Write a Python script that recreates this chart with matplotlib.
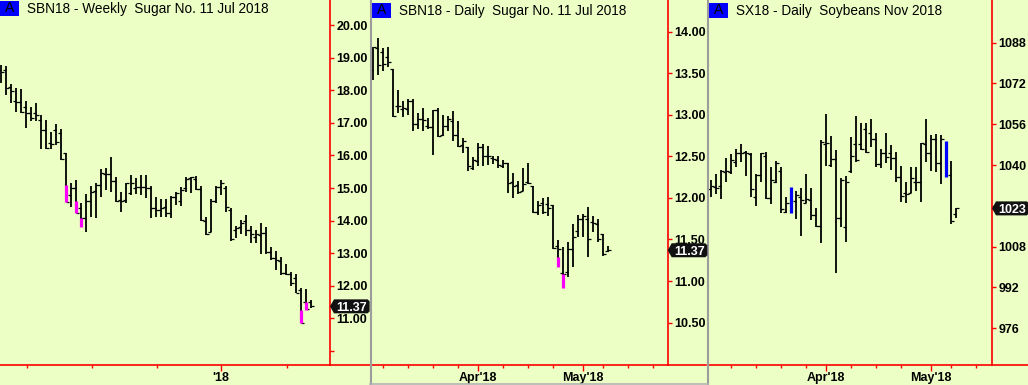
import numpy as np
import matplotlib
matplotlib.use("Agg")
import matplotlib.pyplot as plt
import matplotlib.transforms as mtransforms
from matplotlib.patches import Polygon, Rectangle
from matplotlib.lines import Line2D

plt.rcParams['font.family'] = ['Liberation Sans', 'DejaVu Sans']

BG = '#ECFFC4'
RED = '#FF0000'
W, H = 1028, 385

# ---- SBN18 weekly (sugar) ----
wk_open = [18.62, 18.62, 18.11, 17.67, 17.65, 17.49, 17.29, 17.29, 17.09, 16.78, 16.37, 16.78, 16.68, 16.06, 14.79,
           14.99, 14.38, 14.07, 14.61, 14.91, 15.09, 15.42, 15.43, 15.21, 14.63, 14.63, 14.84, 14.99, 15.04, 15.04,
           14.99, 14.38, 14.33, 14.43, 14.22, 14.73, 14.60, 15.01, 15.30, 15.28, 14.96, 13.99, 13.64, 14.60, 15.04,
           15.01, 14.33, 13.71, 13.79, 13.99, 13.71, 13.51, 13.56, 13.61, 13.05, 12.84, 12.76, 12.40, 12.36, 12.23,
           11.87, 11.51, 11.51]
wk_high = [18.77, 18.74, 18.18, 18.06, 18.04, 17.67, 17.49, 17.60, 17.24, 17.09, 16.73, 16.95, 16.81, 16.09, 15.14,
           15.25, 14.53, 14.81, 15.07, 15.14, 15.58, 15.60, 15.96, 15.35, 14.89, 15.16, 15.40, 15.30, 15.40, 15.40,
           15.07, 14.73, 14.65, 14.65, 14.76, 14.89, 15.04, 15.33, 15.35, 15.38, 15.06, 14.12, 14.65, 15.07, 15.25,
           15.06, 14.38, 13.83, 14.02, 14.17, 13.83, 13.71, 13.92, 13.79, 13.18, 13.08, 12.89, 12.67, 12.43, 12.36,
           11.92, 11.90, 11.56]
wk_low = [18.21, 17.87, 17.60, 17.32, 17.29, 16.85, 17.07, 17.06, 16.20, 16.19, 16.20, 16.32, 15.86, 14.56, 14.43,
          14.22, 13.81, 13.66, 14.12, 14.09, 14.73, 14.94, 14.89, 14.58, 14.25, 14.53, 14.79, 14.81, 14.79, 14.68,
          14.07, 14.12, 14.12, 14.12, 14.07, 14.48, 14.45, 14.89, 14.84, 14.94, 13.99, 13.56, 13.64, 14.53, 14.79,
          14.25, 13.38, 13.46, 13.59, 13.53, 13.30, 13.32, 12.98, 12.98, 12.79, 12.48, 12.33, 12.33, 11.99, 11.77,
          10.87, 11.26, 11.31]
wk_close = [18.57, 18.06, 17.98, 17.65, 17.34, 17.29, 17.14, 17.24, 16.78, 16.22, 16.34, 16.40, 15.89, 14.58, 14.99,
            14.22, 14.09, 14.61, 14.89, 15.09, 15.45, 15.43, 15.21, 14.61, 14.61, 15.14, 15.15, 15.04, 15.04, 14.99,
            14.38, 14.33, 14.38, 14.22, 14.71, 14.86, 14.94, 15.28, 15.33, 14.96, 14.02, 13.58, 14.60, 15.04, 15.14,
            14.43, 13.44, 13.76, 13.92, 13.71, 13.58, 13.59, 13.61, 13.05, 12.84, 12.79, 12.40, 12.36, 12.08, 11.79,
            10.87, 11.28, 11.37]
wk_hl_idx = [13, 15, 16, 60, 61]
wk_hl_top = [15.09, 14.60, 14.09, 11.26, 11.51]
wk_hl_bot = [14.56, 14.22, 13.81, 10.87, 11.26]
wk_yticks = [10, 11, 12, 13, 14, 15, 16, 17, 18, 19, 20]
wk_ylabels = ['', '11.00', '12.00', '13.00', '14.00', '15.00', '16.00', '17.00', '18.00', '19.00', '20.00']
wk_minor = [5.1, 18.1, 31.1, 57.1]
wk_major = [44.0]
wk_xlabels = ["'18"]

# ---- SBN18 daily (sugar) ----
sb_open = [13.54, 13.80, 13.75, 13.70, 13.55, 13.11, 13.07, 13.07, 13.17, 12.89, 12.95, 12.86, 12.85, 13.06, 12.76,
           12.87, 12.93, 12.76, 12.64, 12.61, 12.36, 12.44, 12.61, 12.50, 12.48, 12.46, 12.38, 12.42, 12.19, 12.16,
           12.08, 12.19, 12.14, 11.83, 11.94, 11.93, 11.92, 11.42, 11.10, 11.11, 11.38, 11.60, 11.75, 11.75, 11.71,
           11.69, 11.57, 11.36]
sb_high = [13.82, 13.92, 13.80, 13.82, 13.55, 13.30, 13.16, 13.19, 13.19, 13.02, 13.08, 12.96, 13.06, 13.08, 13.00,
           12.99, 13.04, 12.92, 12.72, 12.61, 12.49, 12.66, 12.65, 12.62, 12.50, 12.50, 12.46, 12.42, 12.30, 12.20,
           12.36, 12.42, 12.14, 11.96, 12.00, 12.01, 11.92, 11.49, 11.41, 11.47, 11.69, 11.79, 11.81, 11.89, 11.78,
           11.75, 11.57, 11.42]
sb_low = [13.42, 13.48, 13.53, 13.58, 12.97, 13.02, 12.97, 13.00, 12.80, 12.83, 12.80, 12.83, 12.52, 12.73, 12.74,
          12.80, 12.68, 12.61, 12.54, 12.32, 12.34, 12.38, 12.38, 12.40, 12.41, 12.36, 12.36, 12.06, 12.00, 12.05,
          12.08, 12.17, 11.82, 11.79, 11.81, 11.78, 11.38, 11.17, 10.92, 11.05, 11.17, 11.53, 11.53, 11.29, 11.59,
          11.47, 11.30, 11.35]
sb_close = [13.82, 13.60, 13.61, 13.63, 12.99, 13.11, 13.08, 13.17, 12.89, 12.95, 12.94, 12.85, 13.06, 12.75, 12.87,
            12.95, 12.76, 12.62, 12.68, 12.38, 12.46, 12.61, 12.50, 12.50, 12.47, 12.39, 12.42, 12.18, 12.14, 12.07,
            12.17, 12.18, 11.83, 11.91, 11.83, 11.88, 11.40, 11.38, 11.09, 11.38, 11.53, 11.75, 11.78, 11.50, 11.70,
            11.51, 11.33, 11.37]
sb_hl_idx = [37, 38]
sb_hl_top = [11.29, 11.09]
sb_hl_bot = [11.17, 10.92]
sb_yticks = [10.5, 11.0, 11.5, 12.0, 12.5, 13.0, 13.5, 14.0]
sb_ylabels = ['10.50', '11.00', '11.50', '12.00', '12.50', '13.00', '13.50', '14.00']
sb_minor = [2, 7, 12, 17, 26, 31, 36, 46, 51, 56]
sb_major = [21, 42]
sb_xlabels = ["Apr'18", "May'18"]

# ---- SX18 daily (soybeans) ----
sx_open = [1030.5, 1031.3, 1031.8, 1037.4, 1037.4, 1041.3, 1044.9, 1045.3, 1044.3, 1027.3, 1036.1, 1043.6, 1027.0,
           1033.5, 1037.8, 1021.7, 1031.3, 1026.0, 1027.3, 1025.0, 1026.3, 1020.4, 1016.1, 1048.3, 1040.0, 1042.2,
           1019.1, 1015.8, 1037.8, 1048.3, 1048.3, 1054.0, 1052.7, 1050.1, 1040.4, 1044.9, 1044.9, 1042.6, 1035.2,
           1028.9, 1028.9, 1033.5, 1033.5, 1048.3, 1044.9, 1050.1, 1040.9, 1049.4, 1036.1, 1020.8]
sx_high = [1034.1, 1036.5, 1038.1, 1042.6, 1044.3, 1046.2, 1048.3, 1045.6, 1044.6, 1036.5, 1044.9, 1045.3, 1039.4,
           1041.7, 1039.4, 1027.6, 1031.3, 1030.0, 1030.9, 1036.5, 1030.9, 1023.0, 1049.8, 1060.0, 1051.4, 1045.9,
           1034.8, 1035.7, 1051.1, 1059.2, 1056.6, 1056.4, 1057.9, 1052.7, 1046.2, 1052.7, 1047.9, 1045.3, 1039.6,
           1033.5, 1039.1, 1039.4, 1048.8, 1057.9, 1051.8, 1052.2, 1051.8, 1049.4, 1041.7, 1023.0]
sx_low = [1027.3, 1028.7, 1026.7, 1033.5, 1036.5, 1039.4, 1041.3, 1035.7, 1027.3, 1024.0, 1033.5, 1026.6, 1024.7,
          1033.1, 1021.3, 1021.3, 1021.3, 1018.7, 1012.2, 1025.0, 1018.5, 1015.8, 1009.6, 1039.6, 1039.4, 997.8,
          1015.8, 1010.0, 1037.0, 1041.3, 1045.9, 1044.6, 1047.2, 1039.1, 1038.7, 1040.7, 1038.1, 1033.5, 1025.6,
          1025.0, 1028.9, 1030.0, 1025.6, 1041.3, 1037.8, 1037.4, 1032.6, 1035.2, 1016.9, 1019.1]
sx_close = [1031.8, 1030.9, 1037.8, 1037.8, 1042.0, 1044.6, 1044.9, 1044.9, 1030.5, 1036.1, 1044.6, 1027.0, 1034.1,
            1040.7, 1022.6, 1025.0, 1021.3, 1028.3, 1026.3, 1026.6, 1020.4, 1016.1, 1049.2, 1048.5, 1042.2, 1019.1,
            1034.1, 1033.5, 1043.6, 1042.0, 1046.2, 1045.3, 1050.1, 1040.4, 1044.9, 1043.3, 1042.6, 1035.2, 1027.9,
            1028.7, 1034.8, 1033.5, 1048.5, 1044.9, 1050.1, 1040.9, 1050.1, 1035.2, 1018.2, 1023.0]
sx_hl_idx = [16, 47]
sx_hl_top = [1031.3, 1049.4]
sx_hl_bot = [1021.3, 1035.2]
sx_yticks = [976, 992, 1008, 1024, 1040, 1056, 1072, 1088]
sx_ylabels = ['976', '992', '1008', '', '1040', '1056', '1072', '1088']
sx_minor = [4, 9, 14, 19, 28, 33, 38, 48, 53]
sx_major = [23, 44]
sx_xlabels = ["Apr'18", "May'18"]

fig = plt.figure(figsize=(W / 100, H / 100), dpi=100)
fig.patch.set_facecolor(BG)


def px_axes(x0, x1, y0, y1):
    # pixel rectangle, y measured from the top
    return fig.add_axes([x0 / W, 1 - y1 / H, (x1 - x0) / W, (y1 - y0) / H])


def fig_line(xs, ys, color, lw):
    fig.add_artist(Line2D([x / W for x in xs], [1 - y / H for y in ys], color=color, lw=lw,
                          transform=fig.transFigure, zorder=20))


def draw_panel(ax, o, h, l, c, hl_idx, hl_top, hl_bot, hl_color, solid_hl,
               xlim, ylim, yticks, ylabels, minor, major, xlabels, right_px, ext_px):
    ax.set_facecolor(BG)
    x = np.arange(len(o))
    skip = set(hl_idx) if solid_hl else set()
    keep = [i for i in x if i not in skip]
    xs = np.array(keep)
    ax.vlines(xs, np.array(l)[keep], np.array(h)[keep], color='black', lw=1.3)
    ax.hlines(np.array(o)[keep], xs - 0.6, xs, color='black', lw=0.9)
    ax.hlines(np.array(c)[keep], xs, xs + 0.6, color='black', lw=0.9)
    ax.vlines(hl_idx, hl_bot, hl_top, color=hl_color, lw=2.3, zorder=3)

    ax.set_xlim(*xlim)
    ax.set_ylim(*ylim)
    for s in ['left', 'top']:
        ax.spines[s].set_visible(False)
    for s in ['right', 'bottom']:
        ax.spines[s].set_color(RED)
        ax.spines[s].set_linewidth(1.2)
    ax.yaxis.tick_right()
    ax.set_yticks(yticks, ylabels, fontweight='bold', fontsize=9)
    ax.tick_params(axis='y', direction='out', length=3, width=1, color=RED, pad=1.5)
    ax.set_xticks(major, xlabels, fontweight='bold', fontsize=9)
    ax.set_xticks(minor, minor=True)
    ax.tick_params(axis='x', which='major', direction='out', length=4.5, width=1, color=RED, pad=0.5)
    ax.tick_params(axis='x', which='minor', direction='out', length=2.2, width=1, color=RED)
    # bottom red line runs on under the price scale
    ax_w = ax.get_position().width * W
    ax.plot([1, 1 + ext_px / ax_w], [0, 0], transform=ax.transAxes, color=RED, lw=1.2, clip_on=False)


def header(x0, y0, title):
    fig.add_artist(Rectangle((x0 / W, 1 - (y0 + 15) / H), 19 / W, 15 / H, facecolor='#0000FF',
                             edgecolor='none', transform=fig.transFigure, zorder=20))
    fig.text((x0 + 9.5) / W, 1 - (y0 + 7.5) / H, 'A', ha='center', va='center', fontsize=10,
             color='black', zorder=21)
    fig.text((x0 + 27) / W, 1 - (y0 + 8) / H, title, ha='left', va='center', fontsize=9.8,
             color='black', zorder=21)


def price_flag(ax, price, text):
    trans = mtransforms.blended_transform_factory(ax.transAxes, ax.transData)
    x0, y0 = trans.transform((1, price))
    t = fig.text((x0 + 6.5) / W, y0 / H, text, ha='left', va='center_baseline', fontsize=9,
                 fontweight='bold', color='white', zorder=31)
    bb = t.get_window_extent(fig.canvas.get_renderer())
    r = bb.x1 + 2.5
    pts = [(x0, y0), (x0 + 4, y0 + 7), (r - 2, y0 + 7), (r, y0 + 5), (r, y0 - 5), (r - 2, y0 - 7),
           (x0 + 4, y0 - 7)]
    fig.add_artist(Polygon([(px / W, py / H) for px, py in pts], closed=True, facecolor='#111111',
                           edgecolor='none', transform=fig.transFigure, zorder=30))


ax1 = px_axes(0, 330, 0, 365)
draw_panel(ax1, wk_open, wk_high, wk_low, wk_close, wk_hl_idx, wk_hl_top, wk_hl_bot, '#FF00FF', False,
           (-0.2, 65.8), (9.57, 20.77), wk_yticks, wk_ylabels, wk_minor, wk_major, wk_xlabels, 330, 40)

ax2 = px_axes(372, 667.7, 0, 365)
draw_panel(ax2, sb_open, sb_high, sb_low, sb_close, sb_hl_idx, sb_hl_top, sb_hl_bot, '#FF00FF', False,
           (-0.26, 58.88), (9.99, 14.38), sb_yticks, sb_ylabels, sb_minor, sb_major, sb_xlabels, 667.7, 38)

ax3 = px_axes(709, 992, 0, 365)
draw_panel(ax3, sx_open, sx_high, sx_low, sx_close, sx_hl_idx, sx_hl_top, sx_hl_bot, '#0000FF', True,
           (-0.3, 56.3), (961.6, 1104.7), sx_yticks, sx_ylabels, sx_minor, sx_major, sx_xlabels, 992, 36)

header(0, 1, 'SBN18 - Weekly  Sugar No. 11 Jul 2018')
header(372, 3, 'SBN18 - Daily  Sugar No. 11 Jul 2018')
header(709, 3, 'SX18 - Daily  Soybeans Nov 2018')

# panel separators
fig_line([370.5, 370.5], [0, 385], '#9C9C9C', 1.5)
fig_line([707.5, 707.5], [0, 385], '#9C9C9C', 1.5)
fig_line([370, 708], [384, 384], '#B4B4B4', 1.2)

price_flag(ax1, wk_close[-1], '11.37')
price_flag(ax2, sb_close[-1], '11.37')
price_flag(ax3, sx_close[-1], '1023')

fig.savefig('out.png', dpi=100, facecolor=BG)
